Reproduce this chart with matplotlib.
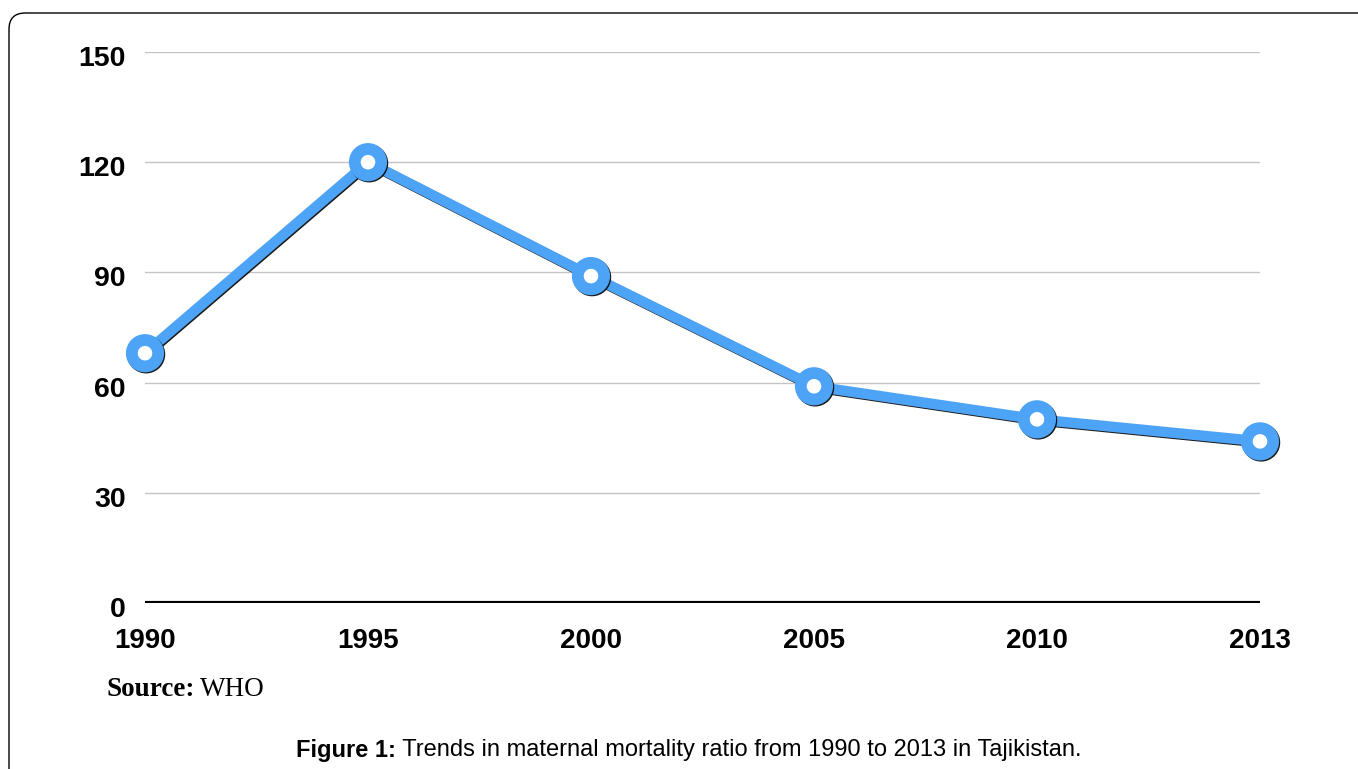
import matplotlib
matplotlib.use("Agg")
import matplotlib.pyplot as plt
import matplotlib.patheffects as pe
import matplotlib.transforms as mtransforms
from matplotlib.patches import FancyBboxPatch

years = ["1990", "1995", "2000", "2005", "2010", "2013"]
mmr = [68, 120, 89, 59, 50, 44]
yticks = [0, 30, 60, 90, 120, 150]

W, H = 1358, 769
fig = plt.figure(figsize=(W / 100, H / 100), dpi=100)
fig.patch.set_facecolor("white")

# rounded border (right and bottom run off the image)
border = FancyBboxPatch((9 / W, -0.1), 1.1, 1 - 13 / H + 0.1,
                        boxstyle="round,pad=0,rounding_size=0.012",
                        transform=fig.transFigure, fill=False,
                        edgecolor="black", linewidth=1.0, mutation_aspect=W / H)
fig.patches.append(border)

ax = fig.add_axes([145 / W, 1 - 603 / H, (1260 - 145) / W, (603 - 52) / H])
x = list(range(len(years)))
ax.set_xlim(0, len(years) - 1)
ax.set_ylim(0, 150)
ax.set_yticks(yticks)
ax.set_xticks(x)
ax.set_xticklabels(years)
for s in ax.spines.values():
    s.set_visible(False)
ax.grid(axis="y", color="#c4c4c4", linewidth=1.0)
ax.set_axisbelow(True)
ax.axhline(0, color="black", linewidth=3, zorder=3)
ax.tick_params(axis="both", length=0)
ax.tick_params(axis="y", pad=14, labelsize=20.5)
ax.tick_params(axis="x", pad=18, labelsize=20)
shift = mtransforms.ScaledTranslation(0, -4 / 100, fig.dpi_scale_trans)
for lab in ax.get_yticklabels():
    lab.set_transform(lab.get_transform() + shift)
for lab in ax.get_xticklabels() + ax.get_yticklabels():
    lab.set_fontfamily("Liberation Sans")
    lab.set_fontweight("bold")

line, = ax.plot(x, mmr, color="#4da3f5", linewidth=7.5, marker="o",
                markersize=19, markeredgewidth=8.5, markerfacecolor="white",
                markeredgecolor="#4da3f5", clip_on=False, zorder=5,
                solid_joinstyle="round")
line.set_path_effects([pe.SimpleLineShadow(offset=(0.8, -0.8), shadow_color="black", alpha=0.9),
                       pe.Normal()])

r = fig.canvas.get_renderer()

# Source text
src_y = 1 - 690 / H
t1 = fig.text(107 / W, src_y, "Source:", family="Liberation Serif",
              fontweight="bold", fontsize=19.5, va="center", ha="left")
fig.canvas.draw()
bb = t1.get_window_extent(r)
fig.text(bb.x1 / W + 5 / W, src_y, "WHO", family="Liberation Serif",
         fontsize=19.5, va="center", ha="left")

# Caption
cap_y = 1 - 750 / H
c1 = fig.text(0, cap_y, "Figure 1:", family="Liberation Sans", fontweight="bold",
              fontsize=17, va="center", ha="left")
c2 = fig.text(0, cap_y, " Trends in maternal mortality ratio from 1990 to 2013 in Tajikistan.",
              family="Liberation Sans", fontsize=17, va="center", ha="left")
fig.canvas.draw()
w1 = c1.get_window_extent(r).width
w2 = c2.get_window_extent(r).width
start = 689 - (w1 + w2) / 2
c1.set_x(start / W)
c2.set_x((start + w1) / W)

fig.savefig("out.png", dpi=100, facecolor="white")
